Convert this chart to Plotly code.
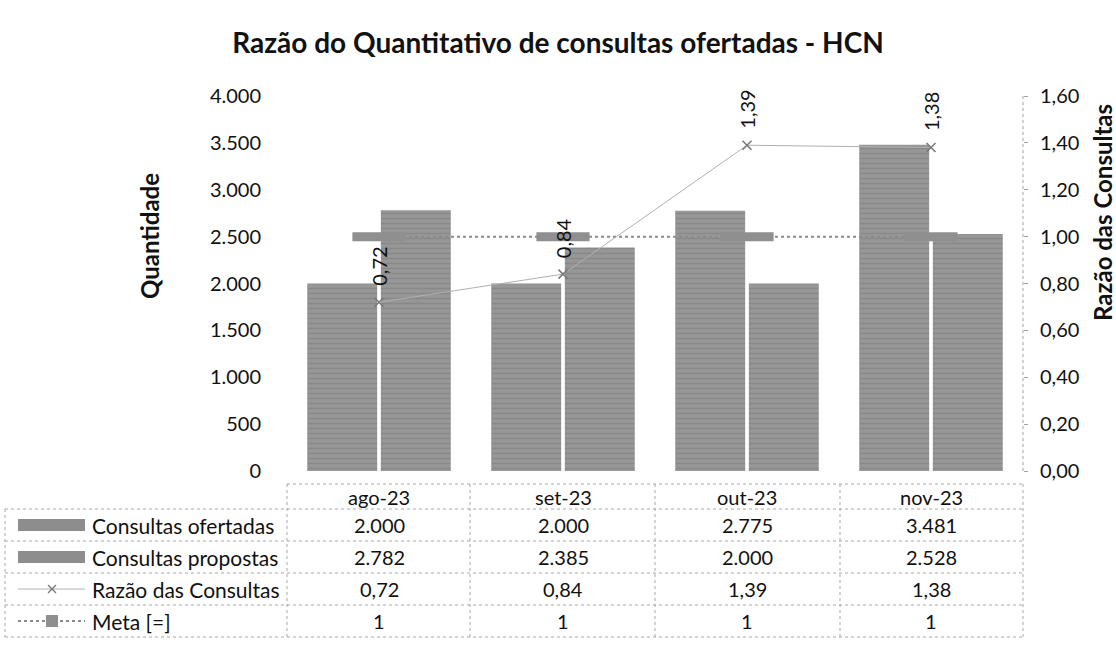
import plotly.graph_objects as go

# Monthly figures for HCN
meses = ["ago-23", "set-23", "out-23", "nov-23"]
ofertadas = [2000, 2000, 2775, 3481]
propostas = [2782, 2385, 2000, 2528]
razao = [0.72, 0.84, 1.39, 1.38]
meta = [1, 1, 1, 1]

nomes = ["Consultas ofertadas", "Consultas propostas", "Razão das Consultas", "Meta [=]"]
eixo_esq = [0, 500, 1000, 1500, 2000, 2500, 3000, 3500, 4000]
eixo_dir = [0.0, 0.2, 0.4, 0.6, 0.8, 1.0, 1.2, 1.4, 1.6]

W, H = 1116, 659
L, R, T, B = 287, 1023, 96, 471
FONT = "Lato"
GRAY = "#8d8d8d"
TXT = "#111111"
FS = 20


def px_x(px):
    return (px - L) / (R - L)


def px_y(py):
    return (B - py) / (B - T)


def fmt_milhar(v):
    return f"{v:,.0f}".replace(",", ".")


def fmt_dec(v):
    return f"{v:.2f}".replace(".", ",")


def fmt_meta(v):
    return f"{v:g}".replace(".", ",")


fig = go.Figure()

bar_pattern = dict(shape="-", fgcolor="#7c7c7c", bgcolor="#979797", size=5, solidity=0.35)
fig.add_trace(go.Bar(x=meses, y=ofertadas, name=nomes[0],
                     marker=dict(color=GRAY, line=dict(width=0), pattern=bar_pattern)))
fig.add_trace(go.Bar(x=meses, y=propostas, name=nomes[1],
                     marker=dict(color=GRAY, line=dict(width=0), pattern=bar_pattern)))
fig.add_trace(go.Scatter(x=meses, y=meta, name=nomes[3], yaxis="y2", mode="lines+markers",
                         line=dict(color="#8a8a8a", width=2, dash="dot"),
                         marker=dict(symbol="line-ew", size=38,
                                     line=dict(color="#8f8f8f", width=9))))
fig.add_trace(go.Scatter(x=meses, y=razao, name=nomes[2], yaxis="y2", mode="lines+markers",
                         line=dict(color="#b0b0b0", width=1),
                         marker=dict(symbol="x-thin", size=9,
                                     line=dict(color="#777777", width=1.5))))

annotations = []
# rotated value labels above the ratio markers
for m, v in zip(meses, razao):
    annotations.append(dict(x=m, y=v, xref="x", yref="y2", text=fmt_dec(v),
                            textangle=-90, showarrow=False, xanchor="center",
                            yanchor="bottom", yshift=14,
                            font=dict(family=FONT, size=FS, color=TXT)))

# axis titles
annotations.append(dict(x=px_x(150), y=px_y(236), xref="paper", yref="paper",
                        text="<b>Quantidade</b>", textangle=-90, showarrow=False,
                        xanchor="center", yanchor="middle",
                        font=dict(family=FONT, size=24, color=TXT)))
annotations.append(dict(x=px_x(1102), y=px_y(213), xref="paper", yref="paper",
                        text="<b>Razão das Consultas</b>", textangle=-90, showarrow=False,
                        xanchor="center", yanchor="middle",
                        font=dict(family=FONT, size=24, color=TXT)))

# data table below the plot
col_edges = [287, 470, 655, 840, 1023]
row_edges = [484, 509, 541, 573, 605, 637]
row_centers = [(row_edges[i] + row_edges[i + 1]) / 2 for i in range(5)]

shapes = []
line_style = dict(color="#a8a8a8", width=1, dash="dot")
shapes.append(dict(type="line", xref="paper", yref="paper", x0=px_x(287), x1=px_x(1023),
                   y0=px_y(484), y1=px_y(484), line=line_style))
for ry in row_edges[1:]:
    shapes.append(dict(type="line", xref="paper", yref="paper", x0=px_x(5), x1=px_x(1023),
                       y0=px_y(ry), y1=px_y(ry), line=line_style))
shapes.append(dict(type="line", xref="paper", yref="paper", x0=px_x(5), x1=px_x(5),
                   y0=px_y(509), y1=px_y(637), line=line_style))
for cx in col_edges:
    shapes.append(dict(type="line", xref="paper", yref="paper", x0=px_x(cx), x1=px_x(cx),
                       y0=px_y(484), y1=px_y(637), line=line_style))
# right axis line
shapes.append(dict(type="line", xref="paper", yref="paper", x0=1, x1=1, y0=0, y1=1,
                   line=dict(color="#a0a0a0", width=1, dash="dot")))

linhas = [
    [fmt_milhar(v) for v in ofertadas],
    [fmt_milhar(v) for v in propostas],
    [fmt_dec(v) for v in razao],
    [fmt_meta(v) for v in meta],
]

cell_font = dict(family=FONT, size=FS, color=TXT)
label_font = dict(family=FONT, size=21, color=TXT)
for m in meses:
    annotations.append(dict(x=m, y=px_y(row_centers[0]), xref="x", yref="paper", text=m,
                            showarrow=False, xanchor="center", yanchor="middle",
                            font=cell_font))
for r, vals in enumerate(linhas):
    yc = px_y(row_centers[r + 1])
    for m, t in zip(meses, vals):
        annotations.append(dict(x=m, y=yc, xref="x", yref="paper", text=t,
                                showarrow=False, xanchor="center", yanchor="middle",
                                font=cell_font))
    annotations.append(dict(x=px_x(90), y=yc, xref="paper", yref="paper", text=nomes[r],
                            xanchor="left", yanchor="middle", showarrow=False,
                            font=label_font))

# legend keys inside the table
k0, k1 = 18, 85
for r in range(2):
    yc = row_centers[r + 1]
    shapes.append(dict(type="rect", xref="paper", yref="paper",
                       x0=px_x(k0), x1=px_x(k1), y0=px_y(yc - 6), y1=px_y(yc + 6),
                       fillcolor=GRAY, line=dict(width=0)))
yc = row_centers[3]
shapes.append(dict(type="line", xref="paper", yref="paper", x0=px_x(k0), x1=px_x(k1),
                   y0=px_y(yc), y1=px_y(yc), line=dict(color="#b0b0b0", width=1)))
for d in (-4, 4):
    shapes.append(dict(type="line", xref="paper", yref="paper",
                       x0=px_x(52 - 4), x1=px_x(52 + 4), y0=px_y(yc - d), y1=px_y(yc + d),
                       line=dict(color="#777777", width=1.2)))
yc = row_centers[4]
shapes.append(dict(type="line", xref="paper", yref="paper", x0=px_x(k0), x1=px_x(k1),
                   y0=px_y(yc), y1=px_y(yc), line=dict(color="#8a8a8a", width=2, dash="dot")))
shapes.append(dict(type="rect", xref="paper", yref="paper",
                   x0=px_x(46), x1=px_x(58), y0=px_y(yc - 6), y1=px_y(yc + 6),
                   fillcolor="#8f8f8f", line=dict(width=0)))

fig.update_layout(
    width=W, height=H,
    margin=dict(l=L, r=W - R, t=T, b=H - B, autoexpand=False),
    paper_bgcolor="white", plot_bgcolor="white",
    separators=",.",
    showlegend=False,
    barmode="group", bargap=0.2, bargroupgap=0.05,
    title=dict(text="<b>Razão do Quantitativo de consultas ofertadas - HCN</b>",
               x=0.5, xref="container", xanchor="center",
               y=1 - 43 / H, yref="container", yanchor="middle",
               font=dict(family=FONT, size=28, color=TXT)),
    xaxis=dict(showticklabels=False, showgrid=False, zeroline=False, showline=False,
               ticks=""),
    yaxis=dict(range=[0, 4000], tickvals=eixo_esq, tickformat=",.0f",
               showgrid=False, zeroline=False, showline=False, ticks="",
               ticklabelstandoff=25,
               tickfont=dict(family=FONT, size=FS, color=TXT)),
    yaxis2=dict(range=[0, 1.6], tickvals=eixo_dir, tickformat=".2f", overlaying="y",
                side="right", showgrid=False, zeroline=False, showline=False,
                ticks="outside", ticklen=4, tickcolor="#a0a0a0",
                ticklabelstandoff=8,
                tickfont=dict(family=FONT, size=FS, color=TXT)),
    annotations=annotations,
    shapes=shapes,
)

fig.write_html("out.html")
